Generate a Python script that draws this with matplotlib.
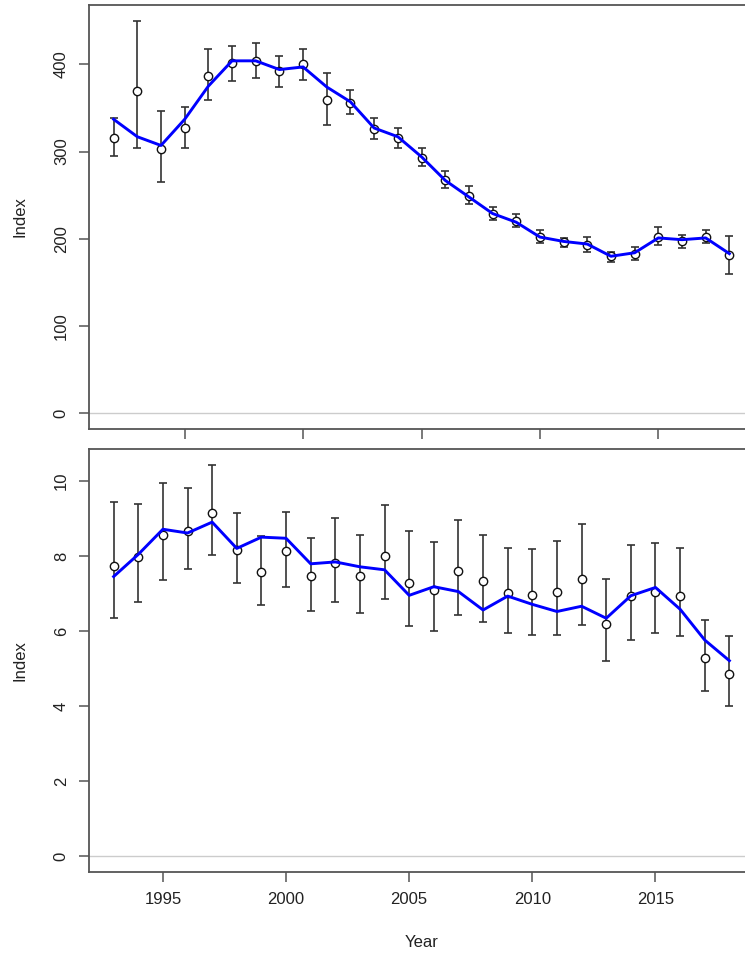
import matplotlib
matplotlib.use("Agg")
import matplotlib.pyplot as plt
import numpy as np

plt.rcParams['font.family'] = ['Liberation Sans', 'DejaVu Sans']

# ---- Top panel data (1992-2018) ----
years_top = list(range(1992, 2019))
obs_top = [316, 369, 303, 327, 387, 401, 404, 392, 400, 359, 356, 326, 316,
           293, 267, 249, 229, 220, 202, 196, 193, 180, 183, 202, 197, 202, 181]
lo_top = [295, 304, 265, 304, 359, 381, 384, 374, 382, 330, 343, 314, 304,
          284, 258, 240, 222, 213, 195, 191, 185, 173, 176, 193, 189, 195, 160]
hi_top = [338, 450, 347, 351, 418, 421, 424, 409, 418, 390, 371, 338, 327,
          304, 278, 260, 237, 228, 210, 201, 202, 185, 191, 213, 204, 210, 203]
fit_top = [337, 317, 307, 337, 375, 404, 404, 394, 397, 374, 357, 327, 317,
           294, 267, 248, 229, 219, 202, 197, 194, 180, 184, 201, 199, 201, 183]

# ---- Bottom panel data (1993-2018) ----
years_bot = list(range(1993, 2019))
obs_bot = [7.74, 7.96, 8.55, 8.67, 9.14, 8.15, 7.57, 8.12, 7.46, 7.81, 7.46, 8.00,
           7.28, 7.08, 7.59, 7.32, 7.01, 6.95, 7.05, 7.39, 6.20, 6.93, 7.05, 6.93,
           5.27, 4.86]
lo_bot = [6.34, 6.77, 7.36, 7.65, 8.03, 7.27, 6.70, 7.17, 6.54, 6.78, 6.49, 6.86,
          6.13, 5.99, 6.43, 6.25, 5.96, 5.90, 5.90, 6.17, 5.21, 5.76, 5.94, 5.86,
          4.41, 4.00]
hi_bot = [9.43, 9.38, 9.95, 9.82, 10.41, 9.15, 8.53, 9.18, 8.49, 9.00, 8.55, 9.35,
          8.66, 8.37, 8.96, 8.55, 8.20, 8.18, 8.41, 8.85, 7.38, 8.30, 8.34, 8.22,
          6.29, 5.88]
fit_bot = [7.45, 8.04, 8.71, 8.61, 8.90, 8.20, 8.50, 8.47, 7.79, 7.84, 7.71, 7.63,
           6.95, 7.18, 7.05, 6.56, 6.93, 6.71, 6.52, 6.66, 6.34, 6.94, 7.16, 6.58,
           5.76, 5.21]

top_yticks = [0, 100, 200, 300, 400]
bot_yticks = [0, 2, 4, 6, 8, 10]
xticks = [1995, 2000, 2005, 2010, 2015]

W, H = 745, 955
fig = plt.figure(figsize=(W / 100, H / 100), dpi=100)

left = 89 / W
width = 665 / W
ax1 = fig.add_axes([left, (H - 429) / H, width, 424 / H])
ax2 = fig.add_axes([left, (H - 872) / H, width, 423 / H])

frame_col = '#555555'
text_col = '#222222'


def style(ax):
    for s in ax.spines.values():
        s.set_color(frame_col)
        s.set_linewidth(1.3)
    ax.tick_params(direction='out', length=7.5, width=1.1, color=frame_col,
                   labelsize=12, labelcolor=text_col, pad=7)
    for lab in ax.get_yticklabels():
        lab.set_rotation(90)
        lab.set_va('center')


def panel(ax, years, obs, lo, hi, fit, ylim_hi):
    obs = np.array(obs)
    yerr = np.vstack([obs - np.array(lo), np.array(hi) - obs])
    ax.axhline(0, color='#cccccc', lw=1.0, zorder=1)
    ax.errorbar(years, obs, yerr=yerr, fmt='none', ecolor='#333333',
                elinewidth=1.2, capsize=2.6, capthick=1.2, zorder=2)
    ax.plot(years, obs, 'o', ms=6, mfc='white', mec='#111111', mew=1.0, zorder=3)
    ax.plot(years, fit, color='#0000ff', lw=2.1, zorder=4)
    span = years[-1] - years[0]
    ax.set_xlim(years[0] - 0.04 * span, years[-1] + 0.04 * span)
    ax.set_ylim(-0.04 * ylim_hi, ylim_hi * 1.04)
    ax.set_ylabel('Index', fontsize=12, color=text_col, labelpad=19)


panel(ax1, years_top, obs_top, lo_top, hi_top, fit_top, 450)
ax1.set_yticks(top_yticks)
ax1.set_xticks(xticks)
ax1.set_xticklabels([])

panel(ax2, years_bot, obs_bot, lo_bot, hi_bot, fit_bot, 10.43)
ax2.set_yticks(bot_yticks)
ax2.set_xticks(xticks)
ax2.set_xticklabels([str(x) for x in xticks])
ax2.set_xlabel('Year', fontsize=12, color=text_col, labelpad=20)

style(ax1)
style(ax2)

fig.savefig('out.png', dpi=100)
